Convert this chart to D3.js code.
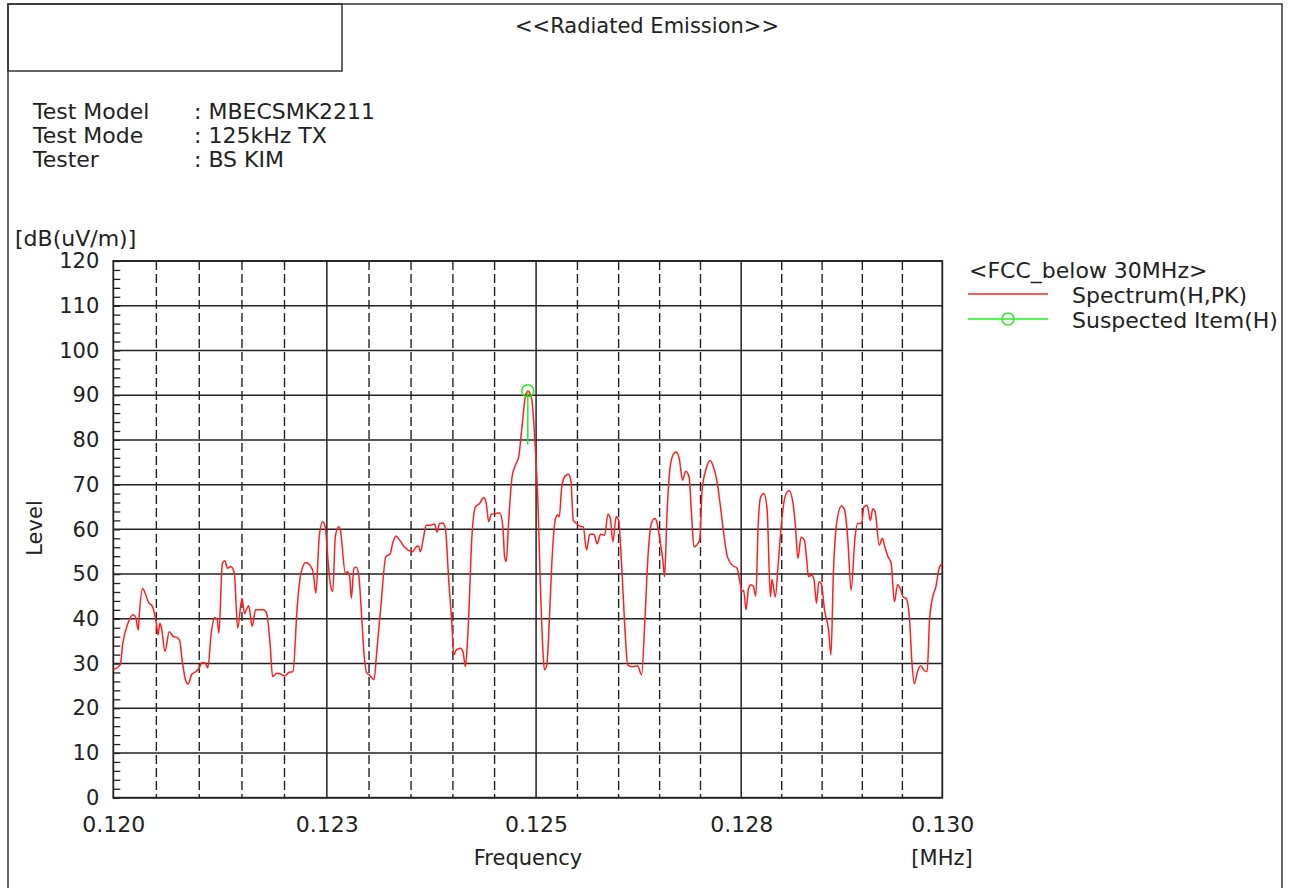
<!DOCTYPE html>
<html>
<head>
<meta charset="utf-8">
<script src="https://cdn.jsdelivr.net/npm/d3@7"></script>
<style>
  body { margin: 0; background: #fff; }
  svg text { font-family: "DejaVu Sans", sans-serif; fill: #222; }
</style>
</head>
<body>
<div id="chart"></div>
<script>
// header info
const infoLabels = ['Test Model', 'Test Mode', 'Tester']
const infoValues = [': MBECSMK2211', ': 125kHz TX', ': BS KIM']

// axis ticks (frequency kept in kHz, labels shown in MHz)
const yTicks = [0, 10, 20, 30, 40, 50, 60, 70, 80, 90, 100, 110, 120]
const xTickValues = [120, 122.5, 125, 127.5, 130]
const xTickLabels = ['0.120', '0.123', '0.125', '0.128', '0.130']

// Spectrum(H,PK)
const freqKHz = [
  120.00, 120.08, 120.11, 120.17, 120.23, 120.26, 120.29, 120.30, 120.34, 120.37,
  120.41, 120.45, 120.50, 120.52, 120.54, 120.56, 120.60, 120.65, 120.70, 120.73,
  120.77, 120.80, 120.84, 120.87, 120.91, 120.96, 121.00, 121.03, 121.07, 121.10,
  121.14, 121.18, 121.21, 121.23, 121.27, 121.30, 121.33, 121.37, 121.41, 121.45,
  121.50, 121.53, 121.55, 121.58, 121.62, 121.66, 121.71, 121.75, 121.79, 121.83,
  121.86, 121.91, 121.95, 122.00, 122.05, 122.10, 122.15, 122.19, 122.25, 122.31,
  122.34, 122.37, 122.41, 122.45, 122.48, 122.52, 122.54, 122.57, 122.60, 122.64,
  122.66, 122.72, 122.74, 122.77, 122.79, 122.82, 122.85, 122.88, 122.91, 122.94,
  122.97, 123.00, 123.06, 123.09, 123.14, 123.20, 123.25, 123.28, 123.32, 123.36,
  123.42, 123.48, 123.52, 123.56, 123.59, 123.61, 123.65, 123.68, 123.73, 123.78,
  123.81, 123.84, 123.88, 123.91, 123.95, 123.99, 124.01, 124.04, 124.09, 124.12,
  124.15, 124.18, 124.23, 124.27, 124.32, 124.37, 124.40, 124.43, 124.46, 124.51,
  124.56, 124.60, 124.62, 124.64, 124.67, 124.71, 124.75, 124.79, 124.83, 124.87,
  124.90, 124.92, 124.95, 124.99, 125.02, 125.05, 125.08, 125.10, 125.13, 125.16,
  125.19, 125.23, 125.26, 125.28, 125.31, 125.35, 125.39, 125.42, 125.45, 125.49,
  125.53, 125.57, 125.61, 125.65, 125.70, 125.74, 125.78, 125.83, 125.87, 125.90,
  125.93, 125.97, 126.00, 126.04, 126.08, 126.11, 126.17, 126.23, 126.28, 126.32,
  126.36, 126.40, 126.44, 126.47, 126.51, 126.54, 126.56, 126.59, 126.62, 126.66,
  126.70, 126.74, 126.78, 126.82, 126.86, 126.89, 126.92, 126.95, 126.99, 127.02,
  127.07, 127.12, 127.16, 127.20, 127.24, 127.28, 127.33, 127.39, 127.45, 127.48,
  127.51, 127.53, 127.56, 127.59, 127.62, 127.65, 127.68, 127.71, 127.74, 127.78,
  127.82, 127.86, 127.88, 127.92, 127.96, 128.00, 128.04, 128.09, 128.14, 128.17,
  128.20, 128.24, 128.28, 128.31, 128.33, 128.37, 128.40, 128.43, 128.46, 128.49,
  128.53, 128.58, 128.61, 128.64, 128.68, 128.74, 128.78, 128.82, 128.86, 128.91,
  128.94, 128.99, 129.02, 129.06, 129.10, 129.13, 129.16, 129.21, 129.25, 129.28,
  129.32, 129.36, 129.40, 129.44, 129.48, 129.51, 129.55, 129.59, 129.62, 129.65,
  129.69, 129.73, 129.77, 129.81, 129.84, 129.88, 129.92, 129.96, 130.00
]
const levelDb = [
  28.6, 29.7, 34.5, 39.0, 40.9, 40.3, 37.5, 40.5, 46.8, 45.7,
  43.6, 42.9, 39.0, 36.4, 39.0, 37.9, 32.7, 37.1, 36.0, 35.9,
  35.3, 30.8, 26.3, 25.4, 27.5, 28.2, 29.0, 30.2, 30.1, 29.0,
  36.8, 40.3, 39.8, 36.8, 52.4, 53.0, 51.3, 51.7, 50.2, 37.9,
  44.6, 41.2, 42.0, 42.9, 38.3, 42.0, 42.0, 42.0, 41.2, 34.5,
  27.1, 27.8, 27.7, 27.2, 28.0, 28.2, 42.7, 49.8, 52.6, 51.7,
  50.2, 45.7, 58.4, 61.7, 60.6, 51.6, 47.9, 46.1, 58.3, 60.6,
  59.8, 50.1, 50.5, 49.4, 44.6, 51.3, 51.5, 49.4, 41.2, 32.3,
  28.0, 27.5, 26.4, 32.3, 42.7, 53.9, 54.5, 56.8, 58.5, 57.7,
  56.1, 55.2, 55.0, 56.1, 56.3, 55.0, 58.3, 60.9, 60.9, 61.2,
  59.4, 61.3, 61.4, 60.2, 48.6, 38.2, 31.9, 33.0, 33.4, 32.7,
  29.3, 36.8, 59.1, 65.0, 65.8, 67.1, 65.8, 61.7, 63.4, 63.5,
  63.7, 60.6, 53.9, 52.8, 62.0, 71.7, 74.3, 76.2, 82.9, 89.6,
  91.0, 90.7, 88.8, 78.4, 67.2, 48.6, 33.8, 28.6, 29.7, 39.7,
  52.4, 62.0, 63.2, 62.8, 69.5, 71.9, 72.3, 71.0, 62.0, 61.3,
  60.7, 60.6, 55.4, 58.9, 58.9, 56.8, 58.9, 58.7, 63.4, 62.4,
  57.2, 62.8, 62.0, 50.9, 36.8, 29.7, 29.3, 29.5, 27.5, 39.7,
  54.6, 61.3, 62.4, 61.3, 56.8, 53.1, 49.4, 63.5, 72.5, 76.5,
  77.3, 75.8, 71.0, 73.0, 71.7, 63.5, 56.1, 56.4, 57.6, 68.7,
  73.6, 75.4, 73.9, 71.0, 65.8, 59.8, 53.9, 52.0, 51.3, 48.6,
  46.1, 46.4, 42.0, 46.8, 47.6, 47.3, 45.1, 61.3, 67.2, 68.0,
  64.3, 44.9, 48.8, 44.9, 53.1, 62.0, 67.2, 68.7, 65.8, 60.6,
  53.5, 58.3, 57.6, 53.1, 49.4, 49.8, 48.7, 43.5, 48.3, 47.9,
  42.0, 37.5, 31.9, 50.1, 61.3, 65.2, 64.3, 57.6, 46.4, 58.3,
  61.3, 61.3, 65.0, 65.4, 62.0, 64.6, 63.9, 56.5, 58.0, 56.1,
  53.9, 52.4, 43.8, 47.6, 46.4, 44.9, 44.5, 39.7, 30.1, 25.5,
  28.2, 29.5, 28.5, 28.2, 39.7, 44.9, 47.2, 51.3, 52.4
]

// Suspected Item(H)
const suspectFreq = [124.90]
const suspectLevel = [91.0]
const suspectLow = [79.0]

const legendTitle = '<FCC_below 30MHz>'
const legendNames = ['Spectrum(H,PK)', 'Suspected Item(H)']
const legendColors = ['#ff2020', '#22ee22']

const width = 1291, height = 888
const plot = { left: 113.3, right: 942.3, top: 261, bottom: 797.7 }

const svg = d3.select('#chart').append('svg')
  .attr('width', width)
  .attr('height', height)

// frame + header box
svg.append('rect')
  .attr('x', 8).attr('y', 4)
  .attr('width', 1274).attr('height', 920)
  .attr('fill', 'none').attr('stroke', '#333').attr('stroke-width', 1.5)
svg.append('rect')
  .attr('x', 8).attr('y', 4)
  .attr('width', 334).attr('height', 67)
  .attr('fill', 'none').attr('stroke', '#333').attr('stroke-width', 1.5)

svg.append('text')
  .attr('x', 647).attr('y', 33)
  .attr('text-anchor', 'middle')
  .style('font-size', '21px')
  .text('<<Radiated Emission>>')

const info = svg.append('g')
info.selectAll('.infoLabel')
  .data(infoLabels)
  .join('text')
  .attr('class', 'infoLabel')
  .attr('x', 33)
  .attr('y', (d, i) => 119 + i * 24)
  .style('font-size', '22px')
  .text(d => d)
info.selectAll('.infoValue')
  .data(infoValues)
  .join('text')
  .attr('class', 'infoValue')
  .attr('x', 194)
  .attr('y', (d, i) => 119 + i * 24)
  .style('font-size', '22px')
  .text(d => d)

const x = d3.scaleLog()
  .domain([120, 130])
  .range([plot.left, plot.right])

const y = d3.scaleLinear()
  .domain([0, 120])
  .range([plot.bottom, plot.top])

// grid
const xGrid = d3.range(120.5, 130, 0.5)
svg.append('g').selectAll('line')
  .data(xGrid)
  .join('line')
  .attr('x1', d => x(d)).attr('x2', d => x(d))
  .attr('y1', plot.top).attr('y2', plot.bottom)
  .attr('stroke', '#222')
  .attr('stroke-width', d => xTickValues.includes(d) ? 1.5 : 1.4)
  .attr('stroke-dasharray', d => xTickValues.includes(d) ? null : '9,4')

svg.append('g').selectAll('line')
  .data(yTicks)
  .join('line')
  .attr('x1', plot.left).attr('x2', plot.right)
  .attr('y1', d => y(d)).attr('y2', d => y(d))
  .attr('stroke', '#222').attr('stroke-width', 1.5)

// minor ticks on the left axis
svg.append('g')
  .attr('transform', `translate(${plot.left},0)`)
  .call(d3.axisRight(y).tickValues(d3.range(0, 121, 2)).tickSize(7).tickFormat(''))
  .call(g => g.select('.domain').remove())
  .call(g => g.selectAll('line').attr('stroke', '#222').attr('stroke-width', 1.3))

svg.append('rect')
  .attr('x', plot.left).attr('y', plot.top)
  .attr('width', plot.right - plot.left).attr('height', plot.bottom - plot.top)
  .attr('fill', 'none').attr('stroke', '#222').attr('stroke-width', 1.8)

// axis labels
const yAxis = svg.append('g')
  .attr('transform', `translate(${plot.left},0)`)
  .call(d3.axisLeft(y).tickValues(yTicks).tickSize(0).tickPadding(14))
yAxis.select('.domain').remove()
yAxis.selectAll('text')
  .style('font-size', '21px')
  .style('font-family', '"DejaVu Sans", sans-serif')
  .attr('fill', '#222')

const xAxis = svg.append('g')
  .attr('transform', `translate(0,${plot.bottom})`)
  .call(d3.axisBottom(x).tickValues(xTickValues).tickSize(0).tickPadding(19)
    .tickFormat((d, i) => xTickLabels[i]))
xAxis.select('.domain').remove()
xAxis.selectAll('text')
  .style('font-size', '22px')
  .style('font-family', '"DejaVu Sans", sans-serif')
  .attr('fill', '#222')

svg.append('text')
  .attr('x', 15).attr('y', 246)
  .style('font-size', '22px')
  .text('[dB(uV/m)]')

svg.append('text')
  .attr('transform', 'translate(42,528) rotate(-90)')
  .attr('text-anchor', 'middle')
  .style('font-size', '21px')
  .text('Level')

svg.append('text')
  .attr('x', 528).attr('y', 865)
  .attr('text-anchor', 'middle')
  .style('font-size', '21px')
  .text('Frequency')

svg.append('text')
  .attr('x', 942).attr('y', 865)
  .attr('text-anchor', 'middle')
  .style('font-size', '21px')
  .text('[MHz]')

// spectrum trace
const line = d3.line()
  .x(i => x(freqKHz[i]))
  .y(i => y(levelDb[i]))
  .curve(d3.curveMonotoneX)

svg.append('path')
  .datum(d3.range(freqKHz.length))
  .attr('d', line)
  .attr('fill', 'none')
  .attr('stroke', legendColors[0])
  .attr('stroke-width', 1.5)

// suspected item
const sus = svg.append('g')
sus.selectAll('line')
  .data(suspectFreq)
  .join('line')
  .attr('x1', d => x(d)).attr('x2', d => x(d))
  .attr('y1', (d, i) => y(suspectLevel[i])).attr('y2', (d, i) => y(suspectLow[i]))
  .attr('stroke', legendColors[1]).attr('stroke-width', 1.5)
sus.selectAll('circle')
  .data(suspectFreq)
  .join('circle')
  .attr('cx', d => x(d))
  .attr('cy', (d, i) => y(suspectLevel[i]))
  .attr('r', 6)
  .attr('fill', 'none')
  .attr('stroke', legendColors[1]).attr('stroke-width', 1.5)

// legend
const legend = svg.append('g')
legend.append('text')
  .attr('x', 969).attr('y', 278)
  .style('font-size', '22px')
  .text(legendTitle)

const items = legend.selectAll('.item')
  .data(legendNames)
  .join('g')
  .attr('class', 'item')
  .attr('transform', (d, i) => `translate(0,${294 + i * 25})`)
items.append('line')
  .attr('x1', 968).attr('x2', 1048)
  .attr('stroke', (d, i) => legendColors[i]).attr('stroke-width', 1.5)
items.filter((d, i) => i == 1).append('circle')
  .attr('cx', 1008).attr('r', 6)
  .attr('fill', 'none').attr('stroke', legendColors[1]).attr('stroke-width', 1.5)
items.append('text')
  .attr('x', 1072).attr('y', 9)
  .style('font-size', '22px')
  .text(d => d)
</script>
</body>
</html>
